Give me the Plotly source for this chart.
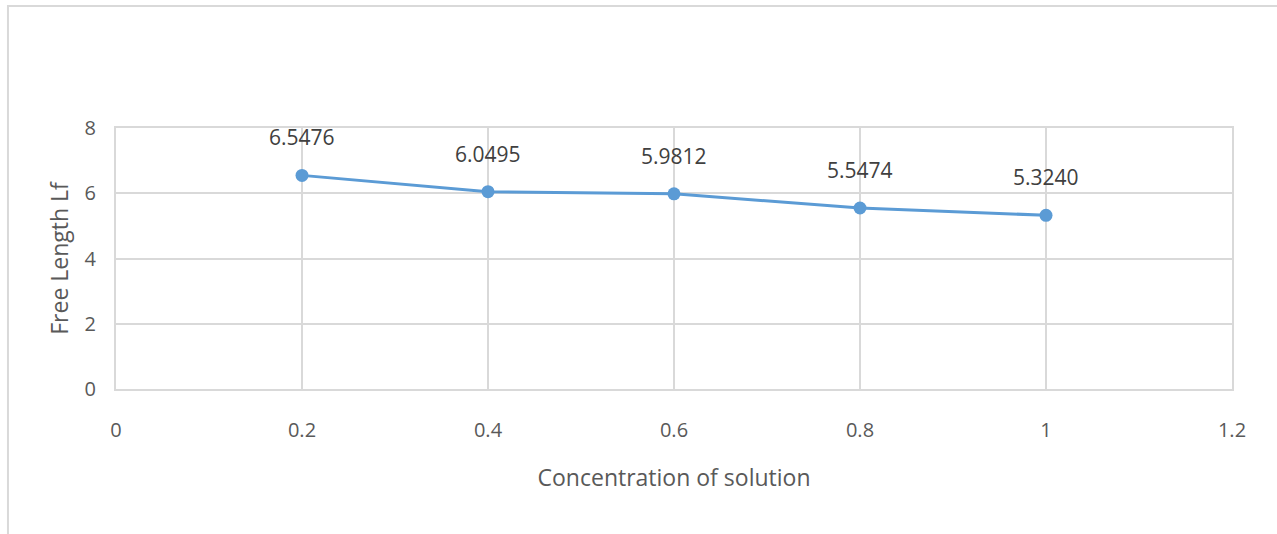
import plotly.graph_objects as go

concentration = [0.2, 0.4, 0.6, 0.8, 1.0]
free_length = [6.5476, 6.0495, 5.9812, 5.5474, 5.3240]
x_ticks = [0, 0.2, 0.4, 0.6, 0.8, 1, 1.2]
y_ticks = [0, 2, 4, 6, 8]

text_color = "#595959"
grid_color = "#d9d9d9"
line_color = "#5b9bd5"
font_family = "Open Sans, Noto Sans, sans-serif"

fig = go.Figure()
fig.add_trace(go.Scatter(
    x=concentration, y=free_length,
    mode="lines+markers",
    line=dict(color=line_color, width=3),
    marker=dict(color=line_color, size=13),
    hoverinfo="x+y",
))

# value labels above each point
for xv, yv in zip(concentration, free_length):
    fig.add_annotation(
        x=xv, y=yv, text=f"{yv:.4f}", showarrow=False,
        yshift=38, font=dict(size=21, color="#404040", family=font_family),
    )

# outer chart frame
fig.add_shape(
    type="rect", xref="paper", yref="paper",
    x0=-0.0968, x1=1.06, y0=-0.60, y1=1.4674,
    line=dict(color=grid_color, width=2), fillcolor="rgba(0,0,0,0)",
    layer="below",
)

fig.update_layout(
    width=1277, height=534,
    margin=dict(l=116, r=45, t=128, b=145),
    paper_bgcolor="white", plot_bgcolor="white",
    showlegend=False,
    font=dict(family=font_family, color=text_color, size=20),
    xaxis=dict(
        range=[0, 1.2], tickvals=x_ticks,
        ticktext=[str(v) for v in x_ticks],
        showgrid=True, gridcolor=grid_color, gridwidth=1.5,
        showline=True, linecolor=grid_color, linewidth=2, mirror=True,
        zeroline=False, ticks="", ticklabelstandoff=22,
        title=dict(text="Concentration of solution", standoff=28,
                   font=dict(size=23, color=text_color)),
    ),
    yaxis=dict(
        range=[0, 8], tickvals=y_ticks,
        showgrid=True, gridcolor=grid_color, gridwidth=1.5,
        showline=True, linecolor=grid_color, linewidth=2, mirror=True,
        zeroline=False, ticks="", ticklabelstandoff=14,
        title=dict(text="Free Length Lf", standoff=10,
                   font=dict(size=23, color=text_color)),
    ),
)

fig.write_html("out.html")
